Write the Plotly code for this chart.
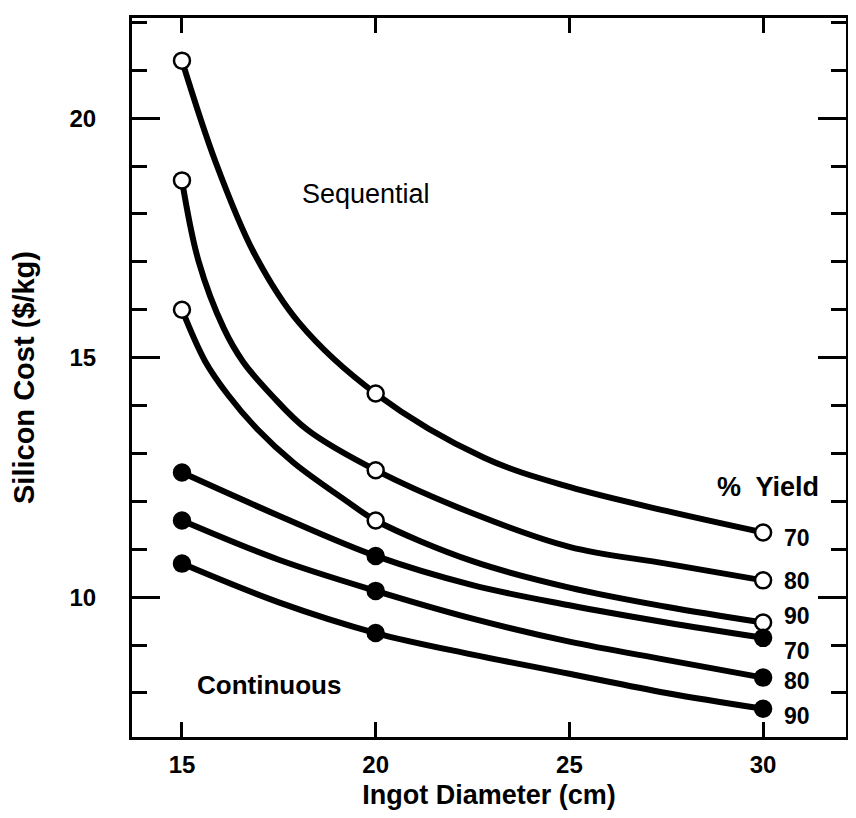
import plotly.graph_objects as go

# Marker positions (ingot diameter, cm) and silicon cost ($/kg)
x_marks = [15, 20, 30]
seq70_marks = [21.2, 14.25, 11.35]
seq80_marks = [18.7, 12.65, 10.35]
seq90_marks = [16.0, 11.6, 9.47]
cont70_marks = [12.6, 10.86, 9.15]
cont80_marks = [11.6, 10.13, 8.32]
cont90_marks = [10.7, 9.25, 7.67]

# Curves
seq70_x = [15, 15.86, 16.85, 18.02, 20, 22.8, 25, 27.5, 30]
seq70_y = [21.2, 19.1, 17.2, 15.73, 14.25, 12.91, 12.3, 11.8, 11.35]
seq80_x = [15, 15.43, 16.08, 16.58, 17.32, 18.24, 20, 22.5, 25, 27.5, 30]
seq80_y = [18.7, 17.01, 15.61, 14.91, 14.21, 13.49, 12.65, 11.75, 11.05, 10.7, 10.35]
seq90_x = [15, 15.6, 16.18, 16.94, 17.89, 19.24, 20, 22.5, 25, 27.5, 30]
seq90_y = [16.0, 14.92, 14.23, 13.51, 12.8, 12.01, 11.6, 10.75, 10.2, 9.8, 9.47]
cont70_x = [15, 17.5, 20, 22.5, 25, 27.5, 30]
cont70_y = [12.6, 11.7, 10.86, 10.25, 9.83, 9.47, 9.15]
cont80_x = [15, 17.5, 20, 22.5, 25, 27.5, 30]
cont80_y = [11.6, 10.78, 10.13, 9.55, 9.07, 8.69, 8.32]
cont90_x = [15, 17.5, 20, 22.5, 25, 27.5, 30]
cont90_y = [10.7, 9.89, 9.25, 8.8, 8.4, 8.0, 7.67]

x_ticks = [15, 20, 25, 30]
y_ticks = [10, 15, 20]

yield_labels = ["70", "80", "90", "70", "80", "90"]
yield_label_y = [11.23, 10.33, 9.6, 8.87, 8.25, 7.52]

FONT = "Liberation Sans, Arial, Helvetica, sans-serif"

fig = go.Figure()

curves = [
    (seq70_x, seq70_y, seq70_marks, True),
    (seq80_x, seq80_y, seq80_marks, True),
    (seq90_x, seq90_y, seq90_marks, True),
    (cont70_x, cont70_y, cont70_marks, False),
    (cont80_x, cont80_y, cont80_marks, False),
    (cont90_x, cont90_y, cont90_marks, False),
]

for cx, cy, my, is_open in curves:
    fig.add_trace(go.Scatter(
        x=cx, y=cy, mode="lines",
        line=dict(color="black", width=6, shape="spline", smoothing=1.0),
        showlegend=False, hoverinfo="skip"))
for cx, cy, my, is_open in curves:
    fig.add_trace(go.Scatter(
        x=x_marks, y=my, mode="markers",
        marker=dict(symbol="circle", size=16,
                    color="white" if is_open else "black",
                    line=dict(color="black", width=2.5)),
        showlegend=False))

annotations = [
    dict(x=19.74, y=18.42, text="Sequential", showarrow=False,
         font=dict(family=FONT, size=27, color="black")),
    dict(x=17.24, y=8.16, text="Continuous", showarrow=False,
         font=dict(family=FONT, size=26, color="black", weight="bold")),
    dict(x=28.75, y=12.3, text="%  Yield", showarrow=False, xanchor="left",
         font=dict(family=FONT, size=27, color="black", weight="bold")),
]
for t, yv in zip(yield_labels, yield_label_y):
    annotations.append(dict(x=30.5, y=yv, text=t, showarrow=False, xanchor="left",
                            font=dict(family=FONT, size=23, color="black", weight="bold")))

fig.update_layout(
    width=840, height=802,
    margin=dict(l=124, r=2, t=10, b=73),
    paper_bgcolor="white", plot_bgcolor="white",
    annotations=annotations,
    xaxis=dict(
        range=[13.71, 32.14], tickvals=x_ticks, ticks="inside", ticklen=15,
        tickwidth=3, tickcolor="black", showline=True, linewidth=3,
        linecolor="black", mirror="ticks", showgrid=False, zeroline=False,
        automargin=False,
        tickfont=dict(family=FONT, size=24, color="black", weight="bold"),
        ticklabelstandoff=4,
        title=dict(text="Ingot Diameter (cm)", standoff=12,
                   font=dict(family=FONT, size=27, color="black", weight="bold")),
    ),
    yaxis=dict(
        range=[7.08, 22.09], tickvals=y_ticks, ticks="inside", ticklen=28,
        tickwidth=3, tickcolor="black", showline=True, linewidth=3,
        linecolor="black", mirror="ticks", showgrid=False, zeroline=False,
        automargin=False,
        minor=dict(dtick=1, tick0=0, ticks="inside", ticklen=15, tickwidth=3,
                   tickcolor="black", showgrid=False),
        tickfont=dict(family=FONT, size=24, color="black", weight="bold"),
        ticklabelstandoff=28,
        title=dict(text="Silicon Cost ($/kg)", standoff=36,
                   font=dict(family=FONT, size=29, color="black", weight="bold")),
    ),
)

fig.write_html("out.html")
